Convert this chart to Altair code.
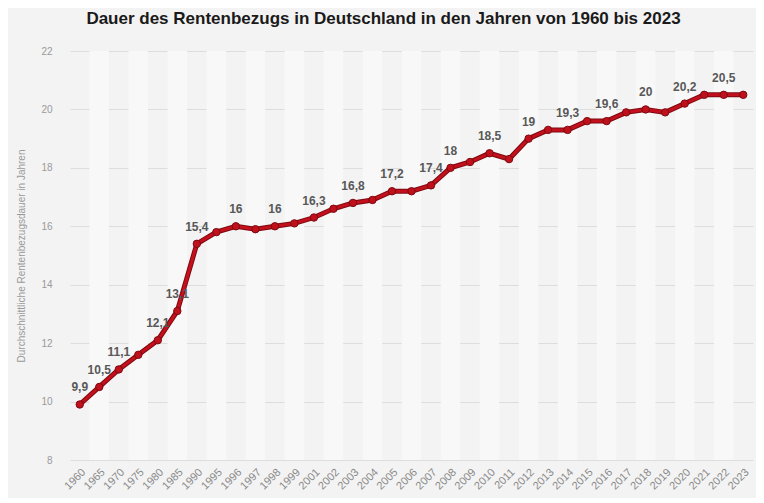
import altair as alt
import pandas as pd

years = ["1960","1965","1970","1975","1980","1985","1990","1995","1996","1997","1998","1999",
         "2001","2002","2003","2004","2005","2006","2007","2008","2009","2010","2011","2012",
         "2013","2014","2015","2016","2017","2018","2019","2020","2021","2022","2023"]
values = [9.9,10.5,11.1,11.6,12.1,13.1,15.4,15.8,16.0,15.9,16.0,16.1,
          16.3,16.6,16.8,16.9,17.2,17.2,17.4,18.0,18.2,18.5,18.3,19.0,
          19.3,19.3,19.6,19.6,19.9,20.0,19.9,20.2,20.5,20.5,20.5]
labels = ["9,9","10,5","11,1","","12,1","13,1","15,4","","16","","16","",
          "16,3","","16,8","","17,2","","17,4","18","","18,5","","19",
          "","19,3","","19,6","","20","","20,2","","20,5",""]
y_ticks = [8, 10, 12, 14, 16, 18, 20, 22]

df = pd.DataFrame({"Jahr": years, "Wert": values, "Label": labels})
df["Band"] = [i % 2 for i in range(len(years))]

W, H = 683, 409

x_enc = alt.X("Jahr:N", sort=years,
              scale=alt.Scale(paddingInner=0, paddingOuter=0),
              axis=alt.Axis(title=None, labelAngle=-45, labelColor="#8a8a8a",
                            labelFontSize=11, labelFont="Liberation Sans",
                            domain=False, ticks=False, labelPadding=6, grid=False))
y_scale = alt.Scale(domain=[8, 22], nice=False, zero=False)

bands = alt.Chart(df).mark_rect(color="#f8f8f8").encode(
    x=x_enc,
    y=alt.value(0), y2=alt.value(H),
    opacity=alt.condition("datum.Band == 1", alt.value(1), alt.value(0)),
)

base_y = alt.Y("Wert:Q", scale=y_scale,
               axis=alt.Axis(values=y_ticks, title="Durchschnittliche Rentenbezugsdauer in Jahren",
                             titleColor="#9a9a9a", titleFontSize=10, titleFontWeight="normal",
                             titleFont="Liberation Sans", titlePadding=14,
                             labelColor="#9a9a9a", labelFontSize=10, labelFont="Liberation Sans",
                             labelPadding=18, domain=False, ticks=False,
                             gridColor="#dddddd", gridWidth=1))

line_outer = alt.Chart(df).mark_line(color="#7d0a10", strokeWidth=5).encode(
    x=alt.X("Jahr:N", sort=years), y=base_y)
line_inner = alt.Chart(df).mark_line(color="#c4101d", strokeWidth=3).encode(
    x=alt.X("Jahr:N", sort=years), y=alt.Y("Wert:Q", scale=y_scale))
points = alt.Chart(df).mark_point(filled=True, size=55, color="#c0101c", stroke="#7d0a10",
                                  strokeWidth=1, opacity=1).encode(
    x=alt.X("Jahr:N", sort=years), y=alt.Y("Wert:Q", scale=y_scale))
texts = alt.Chart(df).mark_text(fontWeight="bold", fontSize=12, color="#585858",
                                font="Liberation Sans", baseline="bottom", dy=-10).encode(
    x=alt.X("Jahr:N", sort=years), y=alt.Y("Wert:Q", scale=y_scale), text="Label:N")

chart = alt.layer(bands, line_outer, line_inner, points, texts).properties(
    width=W, height=H,
    background="#f3f3f3",
    padding={"left": 62, "top": 43, "right": 3, "bottom": 38},
    autosize=alt.AutoSizeParams(type="none"),
    title=alt.TitleParams(
        "Dauer des Rentenbezugs in Deutschland in den Jahren von 1960 bis 2023",
        font="Liberation Sans", fontSize=17, fontWeight="bold", color="#1a1a1a",
        anchor="middle", dx=-28, offset=18),
).configure_view(stroke=None)

chart.save("out.html", embed_options={"renderer": "svg", "actions": False})
